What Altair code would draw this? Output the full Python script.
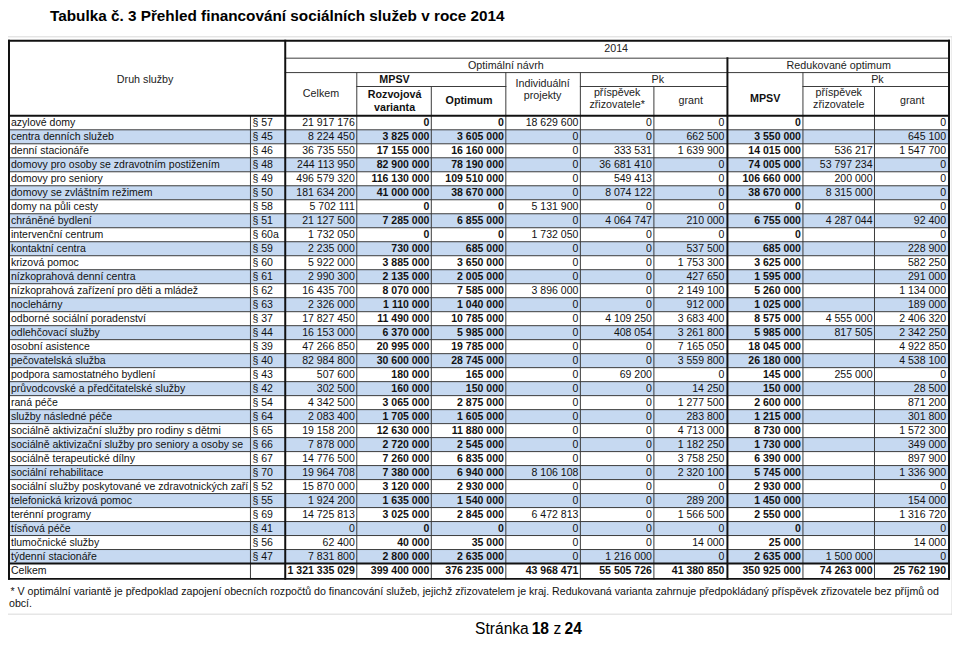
import altair as alt
import pandas as pd

# ------------------------------------------------------------------ data
title_text = "Tabulka č. 3 Přehled financování sociálních služeb v roce 2014"
footnote_lines = [
    "* V optimální variantě je předpoklad zapojení obecních rozpočtů do financování služeb, jejichž zřizovatelem je kraj. Redukovaná varianta zahrnuje předpokládaný příspěvek zřizovatele bez příjmů od",
    "obcí.",
]
page_parts = ["Stránka", "18", "z", "24"]

services = [
    "azylové domy", "centra denních služeb", "denní stacionáře",
    "domovy pro osoby se zdravotním postižením", "domovy pro seniory",
    "domovy se zvláštním režimem", "domy na půli cesty", "chráněné bydlení",
    "intervenční centrum", "kontaktní centra", "krizová pomoc",
    "nízkoprahová denní centra", "nízkoprahová zařízení pro děti a mládež",
    "noclehárny", "odborné sociální poradenství", "odlehčovací služby",
    "osobní asistence", "pečovatelská služba", "podpora samostatného bydlení",
    "průvodcovské a předčitatelské služby", "raná péče", "služby následné péče",
    "sociálně aktivizační služby pro rodiny s dětmi",
    "sociálně aktivizační služby pro seniory a osoby se zdravotním postižením",
    "sociálně terapeutické dílny", "sociální rehabilitace",
    "sociální služby poskytované ve zdravotnických zařízeních lůžkové péče",
    "telefonická krizová pomoc", "terénní programy", "tísňová péče",
    "tlumočnické služby", "týdenní stacionáře",
]
paragraphs = ["§ 57", "§ 45", "§ 46", "§ 48", "§ 49", "§ 50", "§ 58", "§ 51",
              "§ 60a", "§ 59", "§ 60", "§ 61", "§ 62", "§ 63", "§ 37", "§ 44",
              "§ 39", "§ 40", "§ 43", "§ 42", "§ 54", "§ 64", "§ 65", "§ 66",
              "§ 67", "§ 70", "§ 52", "§ 55", "§ 69", "§ 41", "§ 56", "§ 47"]

celkem = [21917176, 8224450, 36735550, 244113950, 496579320, 181634200, 5702111,
          21127500, 1732050, 2235000, 5922000, 2990300, 16435700, 2326000,
          17827450, 16153000, 47266850, 82984800, 507600, 302500, 4342500,
          2083400, 19158200, 7878000, 14776500, 19964708, 15870000, 1924200,
          14725813, 0, 62400, 7831800]
rozvojova = [0, 3825000, 17155000, 82900000, 116130000, 41000000, 0, 7285000, 0,
             730000, 3885000, 2135000, 8070000, 1110000, 11490000, 6370000,
             20995000, 30600000, 180000, 160000, 3065000, 1705000, 12630000,
             2720000, 7260000, 7380000, 3120000, 1635000, 3025000, 0, 40000, 2800000]
optimum = [0, 3605000, 16160000, 78190000, 109510000, 38670000, 0, 6855000, 0,
           685000, 3650000, 2005000, 7585000, 1040000, 10785000, 5985000,
           19785000, 28745000, 165000, 150000, 2875000, 1605000, 11880000,
           2545000, 6835000, 6940000, 2930000, 1540000, 2845000, 0, 35000, 2635000]
individualni = [18629600, 0, 0, 0, 0, 0, 5131900, 0, 1732050, 0, 0, 0, 3896000,
                0, 0, 0, 0, 0, 0, 0, 0, 0, 0, 0, 0, 8106108, 0, 0, 6472813, 0, 0, 0]
pk_prispevek = [0, 0, 333531, 36681410, 549413, 8074122, 0, 4064747, 0, 0, 0, 0,
                0, 0, 4109250, 408054, 0, 0, 69200, 0, 0, 0, 0, 0, 0, 0, 0, 0, 0,
                0, 0, 1216000]
pk_grant = [0, 662500, 1639900, 0, 0, 0, 0, 210000, 0, 537500, 1753300, 427650,
            2149100, 912000, 3683400, 3261800, 7165050, 3559800, 0, 14250,
            1277500, 283800, 4713000, 1182250, 3758250, 2320100, 0, 289200,
            1566500, 0, 14000, 0]
red_mpsv = [0, 3550000, 14015000, 74005000, 106660000, 38670000, 0, 6755000, 0,
            685000, 3625000, 1595000, 5260000, 1025000, 8575000, 5985000,
            18045000, 26180000, 145000, 150000, 2600000, 1215000, 8730000,
            1730000, 6390000, 5745000, 2930000, 1450000, 2550000, 0, 25000, 2635000]
red_prispevek = [None, None, 536217, 53797234, 200000, 8315000, None, 4287044,
                 None, None, None, None, None, None, 4555000, 817505, None, None,
                 255000, None, None, None, None, None, None, None, None, None,
                 None, None, None, 1500000]
red_grant = [0, 645100, 1547700, 0, 0, 0, 0, 92400, 0, 228900, 582250, 291000,
             1134000, 189000, 2406320, 2342250, 4922850, 4538100, 0, 28500,
             871200, 301800, 1572300, 349000, 897900, 1336900, 0, 154000,
             1316720, 0, 14000, 0]
total_label = "Celkem"
totals = [1321335029, 399400000, 376235000, 43968471, 55505726, 41380850,
          350925000, 74263000, 25762190]

header_labels = ["Druh služby", "2014", "Optimální návrh", "Redukované optimum",
                 "Celkem", "MPSV", "Rozvojová", "varianta", "Optimum",
                 "Individuální", "projekty", "Pk", "příspěvek", "zřizovatele*",
                 "grant", "MPSV", "Pk", "příspěvek", "zřizovatele", "grant"]
header_bold = [False, False, False, False, False, True, True, True, True,
               False, False, False, False, False, False, True, False, False,
               False, False]

# ------------------------------------------------------------------ layout
FONT = "Liberation Sans"
FS = 10.6
LEFT, RIGHT = 8.5, 955
XE = [LEFT, 252, 287, 359, 434, 509, 584, 658, 732, 808, 880, RIGHT]
HY = [39, 56.5, 71, 85, 114.5]
DATA_TOP, ROW_H = 114.5, 14.08
TOT_TOP, TOT_BOT = 565, 580.5
header_pos = [(146, 78), (620, 47.5), (509, 64), (844, 64), (323, 93),
              (397, 78), (397, 94), (397, 107), (472, 100), (546, 82),
              (546, 95), (662, 78), (621, 92), (621, 104), (695, 100),
              (770, 98), (883, 78), (844, 92), (844, 104), (918, 100)]
LINE = "#3a3a3a"
THICK = "#111111"
BLUE = "#c6d9f1"

num_cols = [celkem, rozvojova, optimum, individualni, pk_prispevek, pk_grant,
            red_mpsv, red_prispevek, red_grant]
bold_cols = [False, True, True, False, False, False, True, False, False]
col_right = XE[3:]


def fmt(v):
    return f"{v:,}".replace(",", " ")


def row_center(i):
    return DATA_TOP + (i + 0.5) * ROW_H


def row_top(i):
    return DATA_TOP + i * ROW_H


n = len(services)

# ------------------------------------------------------------------ tables
fills = pd.DataFrame([
    {"x": LEFT, "x2": RIGHT, "y": row_top(i), "y2": row_top(i + 1), "c": BLUE}
    for i in range(n) if i % 2 == 1
])

rules = []


def rule(x, x2, y, y2, c=LINE, w=1.0):
    rules.append({"x": x, "x2": x2, "y": y, "y2": y2, "c": c, "w": w})


# data horizontal lines
for i in range(1, n):
    rule(LEFT, RIGHT, row_top(i), row_top(i))
# data vertical thin lines
for xv in [252, 359, 434, 509, 584, 658, 808, 880]:
    rule(xv, xv, HY[-1], TOT_BOT)
# header lines
rule(287, RIGHT, HY[1], HY[1])
rule(287, RIGHT, HY[2], HY[2])
for a, b in [(359, 509), (584, 732), (808, RIGHT)]:
    rule(a, b, HY[3], HY[3])
for xv in [359, 509, 584, 808]:
    rule(xv, xv, HY[2], HY[4])
for xv in [434, 658, 880]:
    rule(xv, xv, HY[3], HY[4])
# thick lines
rule(287, 287, HY[0], TOT_BOT, THICK, 2)
rule(732, 732, HY[1], TOT_BOT, THICK, 2)
rule(LEFT, RIGHT, HY[-1], HY[-1], THICK, 2)
rule(LEFT, RIGHT, TOT_TOP, TOT_TOP, THICK, 2)
rule(LEFT, RIGHT, HY[0], HY[0], THICK, 2)
rule(LEFT, RIGHT, TOT_BOT, TOT_BOT, THICK, 2)
rule(LEFT + 0.5, LEFT + 0.5, HY[0], TOT_BOT, THICK, 2)
rule(RIGHT, RIGHT, HY[0], TOT_BOT, THICK, 2)
# light frame of the pasted table image
rule(8, 958, 35, 35, "#d9d9d9", 1)
rule(8, 958, 616, 616, "#d9d9d9", 1)
rule(958, 958, 35, 616, "#d9d9d9", 1)
rules = pd.DataFrame(rules)

names = pd.DataFrame({"x": LEFT + 2.5, "y": [row_center(i) for i in range(n)],
                      "t": services})
names = pd.concat([names, pd.DataFrame([{"x": LEFT + 2.5,
                                         "y": (TOT_TOP + TOT_BOT) / 2,
                                         "t": total_label}])])
pars = pd.DataFrame({"x": 254, "y": [row_center(i) for i in range(n)],
                     "t": paragraphs})

cells = []
for j, col in enumerate(num_cols):
    pad = 3 if col_right[j] in (732, RIGHT) else 2
    for i, v in enumerate(col):
        if v is None:
            continue
        cells.append({"x": col_right[j] - pad, "y": row_center(i), "t": fmt(v),
                      "b": bold_cols[j]})
    cells.append({"x": col_right[j] - pad, "y": (TOT_TOP + TOT_BOT) / 2,
                  "t": fmt(totals[j]), "b": True})
cells = pd.DataFrame(cells)

heads = pd.DataFrame({"x": [p[0] for p in header_pos],
                      "y": [p[1] for p in header_pos],
                      "t": header_labels, "b": header_bold})

# ------------------------------------------------------------------ chart
XS = alt.Scale(domain=[8, 958], nice=False, zero=False)
YS = alt.Scale(domain=[8, 637], nice=False, zero=False, reverse=True)


def X(f="x"):
    return alt.X(f"{f}:Q", scale=XS, axis=None)


def Y(f="y"):
    return alt.Y(f"{f}:Q", scale=YS, axis=None)


fill_layer = alt.Chart(fills).mark_rect().encode(
    x=X(), x2="x2", y=Y(), y2="y2", color=alt.Color("c:N", scale=None))

rule_layer = alt.Chart(rules).mark_rule(strokeCap="square").encode(
    x=X(), x2="x2", y=Y(), y2="y2",
    color=alt.Color("c:N", scale=None),
    strokeWidth=alt.StrokeWidth("w:Q", scale=None))

name_layer = alt.Chart(names).mark_text(
    align="left", baseline="middle", font=FONT, fontSize=FS, color="#111",
    limit=242, ellipsis="\u200b").encode(x=X(), y=Y(), text="t:N")

par_layer = alt.Chart(pars).mark_text(
    align="left", baseline="middle", font=FONT, fontSize=FS, color="#111"
).encode(x=X(), y=Y(), text="t:N")

num_plain = alt.Chart(cells[~cells.b]).mark_text(
    align="right", baseline="middle", font=FONT, fontSize=FS, color="#111"
).encode(x=X(), y=Y(), text="t:N")
num_bold = alt.Chart(cells[cells.b]).mark_text(
    align="right", baseline="middle", font=FONT, fontSize=FS, color="#111",
    fontWeight="bold").encode(x=X(), y=Y(), text="t:N")

head_plain = alt.Chart(heads[~heads.b]).mark_text(
    align="center", baseline="middle", font=FONT, fontSize=10.8, color="#222"
).encode(x=X(), y=Y(), text="t:N")
head_bold = alt.Chart(heads[heads.b]).mark_text(
    align="center", baseline="middle", font=FONT, fontSize=10.8, color="#111",
    fontWeight="bold").encode(x=X(), y=Y(), text="t:N")

title_layer = alt.Chart(pd.DataFrame({"x": [279], "y": [19.5], "t": [title_text]})
                        ).mark_text(align="center", baseline="alphabetic",
                                    font=FONT, fontSize=15.4, fontWeight="bold",
                                    color="#000").encode(x=X(), y=Y(), text="t:N")

foot_df = pd.DataFrame({"x": [10.5, 9], "y": [597, 609], "t": footnote_lines})
foot_layer = alt.Chart(foot_df).mark_text(
    align="left", baseline="alphabetic", font=FONT, fontSize=10.7, color="#111"
).encode(x=X(), y=Y(), text="t:N")

page_df = pd.DataFrame({"x": [478, 535, 557, 568], "y": [636] * 4,
                        "t": page_parts, "b": [False, True, False, True]})
page_plain = alt.Chart(page_df[~page_df.b]).mark_text(
    align="left", baseline="alphabetic", font=FONT, fontSize=15.7, color="#000"
).encode(x=X(), y=Y(), text="t:N")
page_bold = alt.Chart(page_df[page_df.b]).mark_text(
    align="left", baseline="alphabetic", font=FONT, fontSize=15.7, color="#000",
    fontWeight="bold").encode(x=X(), y=Y(), text="t:N")

chart = alt.layer(
    fill_layer, rule_layer, name_layer, par_layer, num_plain, num_bold,
    head_plain, head_bold, title_layer, foot_layer, page_plain, page_bold
).properties(
    width=950, height=629, padding=0, autosize=alt.AutoSizeParams(type="none"),
    background="white"
).configure_view(stroke=None)

chart.save("out.html", embed_options={"renderer": "svg", "actions": False})
